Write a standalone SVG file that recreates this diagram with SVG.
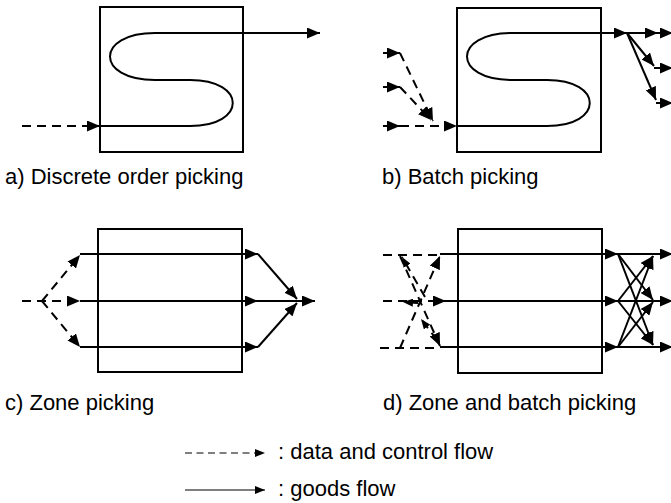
<svg xmlns="http://www.w3.org/2000/svg" width="671" height="503" viewBox="0 0 671 503">
<defs>
<style>
.box{fill:none;stroke:#000;stroke-width:2}
.g{fill:none;stroke:#000;stroke-width:2}
.d{fill:none;stroke:#000;stroke-width:2;stroke-dasharray:9 6}
.lg{fill:none;stroke:#000;stroke-width:1.2}
.ld{fill:none;stroke:#000;stroke-width:1.2;stroke-dasharray:7 4.5}
text{font-family:"Liberation Sans",Arial,sans-serif;font-size:22px;fill:#000}
</style>
<marker id="ah" viewBox="0 0 13 11" refX="13" refY="5.5" markerWidth="13" markerHeight="11" markerUnits="userSpaceOnUse" orient="auto"><path d="M0,0 L13,5.5 L0,11 z" fill="#000"/></marker>
<marker id="as" viewBox="0 0 10 8" refX="10" refY="4" markerWidth="10" markerHeight="8" markerUnits="userSpaceOnUse" orient="auto"><path d="M0,0 L10,4 L0,8 z" fill="#000"/></marker>
</defs>
<rect width="671" height="503" fill="#fff"/>

<g id="node-a">
<rect class="box" x="100" y="7" width="143" height="145"/>
<text x="5" y="184">a) Discrete order picking</text>
</g>
<g id="node-b">
<rect class="box" x="457" y="8" width="144" height="144"/>
<text x="382" y="184">b) Batch picking</text>
</g>
<g id="node-c">
<rect class="box" x="98" y="229" width="144" height="143"/>
<text x="5" y="410">c) Zone picking</text>
</g>
<g id="node-d">
<rect class="box" x="458" y="229" width="144" height="144"/>
<text x="383" y="410">d) Zone and batch picking</text>
</g>
<g id="legend">
<line class="ld" x1="185" y1="453" x2="265" y2="453" marker-end="url(#as)"/>
<text x="278" y="459">: data and control flow</text>
<line class="lg" x1="185" y1="490" x2="265" y2="490" marker-end="url(#as)"/>
<text x="278" y="496">: goods flow</text>
</g>

<g id="connectors">
<!-- a -->
<path class="d" d="M22,126 L100,126" marker-end="url(#ah)"/>
<path class="g" d="M100,126 L190,126 C247,126 247,80 190,80 L155,80 C95,80 95,33 155,33 L320,33" marker-end="url(#ah)"/>
<!-- b -->
<path class="d" d="M383,53 L400,53" marker-end="url(#ah)"/>
<path class="d" d="M383,87 L400,87" marker-end="url(#ah)"/>
<path class="d" d="M383,126 L400,126" marker-end="url(#ah)"/>
<path class="d" d="M400,53 L433,121" marker-end="url(#ah)"/>
<path class="d" d="M400,87 L431,120" marker-end="url(#ah)"/>
<path class="d" d="M400,126 L457,126" marker-end="url(#ah)"/>
<path class="g" d="M457,126 L547,126 C604,126 604,80 547,80 L512,80 C452,80 452,33 512,33 L627,33" marker-end="url(#ah)"/>
<path class="g" d="M627,33 L658,33" marker-end="url(#ah)"/>
<path class="g" d="M658,33 L673,33" marker-end="url(#ah)"/>
<path class="g" d="M627,33 L654,66" marker-end="url(#ah)"/>
<path class="g" d="M654,68 L673,68" marker-end="url(#ah)"/>
<path class="g" d="M627,33 L656,100" marker-end="url(#ah)"/>
<path class="g" d="M656,103 L673,103" marker-end="url(#ah)"/>
<!-- c -->
<path class="d" d="M22,301 L80,301" marker-end="url(#ah)"/>
<path class="d" d="M42,301 L80,255" marker-end="url(#ah)"/>
<path class="d" d="M42,301 L80,347" marker-end="url(#ah)"/>
<path class="g" d="M80,254 L258,254" marker-end="url(#ah)"/>
<path class="g" d="M80,301 L258,301" marker-end="url(#ah)"/>
<path class="g" d="M80,347 L258,347" marker-end="url(#ah)"/>
<path class="g" d="M258,254 L297,299" marker-end="url(#ah)"/>
<path class="g" d="M258,301 L315,301" marker-end="url(#ah)"/>
<path class="g" d="M258,347 L297,303" marker-end="url(#ah)"/>
<!-- d inputs -->
<path class="d" d="M383,255 L440,255"/>
<path class="d" d="M383,301 L446,301" marker-end="url(#ah)"/>
<path class="d" d="M380,348 L440,348"/>
<path class="d" d="M400,256 L440,346" marker-end="url(#ah)"/>
<path class="d" d="M400,348 L440,256" marker-end="url(#ah)"/>
<path class="d" d="M425,297 L402,257" marker-end="url(#as)"/>
<path class="d" d="M418,303 L403,302" marker-end="url(#as)"/>
<path class="d" d="M437,340 L421,319" marker-end="url(#as)"/>
<!-- d goods -->
<path class="g" d="M440,254 L618,254" marker-end="url(#ah)"/>
<path class="g" d="M446,301 L618,301" marker-end="url(#ah)"/>
<path class="g" d="M440,347 L618,347" marker-end="url(#ah)"/>
<path class="g" d="M618,254 L673,254" marker-end="url(#ah)"/>
<path class="g" d="M618,301 L673,301" marker-end="url(#ah)"/>
<path class="g" d="M618,347 L673,347" marker-end="url(#ah)"/>
<path class="g" d="M618,254 L653,300" marker-end="url(#ah)"/>
<path class="g" d="M618,254 L653,345" marker-end="url(#ah)"/>
<path class="g" d="M618,301 L653,256" marker-end="url(#ah)"/>
<path class="g" d="M618,301 L653,345" marker-end="url(#ah)"/>
<path class="g" d="M618,347 L653,256" marker-end="url(#ah)"/>
<path class="g" d="M618,347 L653,302" marker-end="url(#ah)"/>
</g>
</svg>
